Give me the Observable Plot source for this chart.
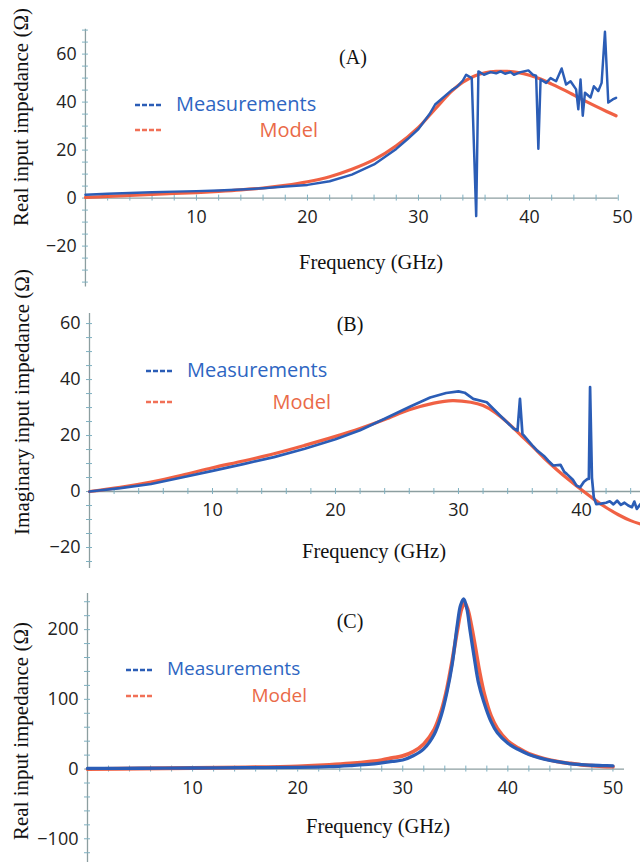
<!DOCTYPE html>
<html><head><meta charset="utf-8">
<script src="https://cdn.jsdelivr.net/npm/d3@7"></script>
<script src="https://cdn.jsdelivr.net/npm/@observablehq/plot@0.6"></script>
<style>
html,body{margin:0;padding:0;background:#fff;}
#fig{position:relative;width:640px;height:862px;overflow:hidden;}
.panel{position:absolute;left:0;width:640px;overflow:hidden;}
#overlay{position:absolute;left:0;top:0;pointer-events:none;}
</style></head><body><div id="fig"></div>
<script>
// ---------- Panel A: real input impedance ----------
const freqA_meas = [0,2,4,6,8,10,12,14,16,18,20,22,24,26,28,29,30,31,31.5,32,33,33.5,34,34.3,34.8,35.2,35.4,35.9,36.5,37,37.4,37.8,38.3,38.6,39.2,39.9,40.3,40.6,40.8,41.0,41.5,41.9,42.4,42.9,43.3,43.7,44.2,44.4,44.6,44.8,45.0,45.5,45.8,46.2,46.5,46.8,47.1,47.5,47.8];
const realA_meas = [1.4,1.8,2.1,2.4,2.7,2.9,3.2,3.6,4.1,4.8,5.5,7,9.8,14,20.5,24.5,28.8,35,39,41,45,46.5,49,51.4,50,-7.5,52.8,51.4,52.5,52,52.8,51.8,52.5,51.4,52.5,53.2,51.4,51,20.6,49.4,48,50,48.7,54,47.3,48.7,45.3,37,49.4,34.3,43.9,41.9,46.6,44.6,48,69.3,39.8,41.1,41.8];
const freqA_model = [0,2,4,6,8,10,12,14,16,18,20,22,24,26,28,30,31,32,33,34,35,36,37,38,39,40,41,42,43,44,45,46,47,47.8];
const realA_model = [0.3,0.7,1.1,1.5,1.9,2.3,2.8,3.4,4.2,5.3,6.8,8.9,12,16,21.8,29.5,34.5,39.7,44.6,48.3,50.8,52.2,52.8,52.8,52.3,51.2,49.6,47.5,45.3,42.9,40.5,38.2,36,34.3];

// ---------- Panel B: imaginary input impedance ----------
const freqB_meas = [0,2.5,5,7.5,10,12.5,15,17.5,20,22,24,26,27.7,29,30,30.5,31.2,32.3,33.4,34.5,34.8,35.0,35.2,36,36.4,37,37.3,37.7,38.3,38.6,38.8,39.3,39.6,39.9,40.2,40.5,40.6,40.7,40.85,41.0,41.2,41.6,42,42.3,42.6,42.9,43.2,43.5,43.8,44.1,44.3,44.5,44.8];
const imagB_meas = [0,1.2,2.7,5,7.4,9.8,12.3,15.3,18.7,21.9,26,30.2,33.6,35.2,35.8,35.3,33.1,31.9,27.1,22.4,21.8,33.1,20.6,16.5,14.6,12.5,11,9.3,9.5,7,6.3,4.2,2.1,1.5,3.5,4.5,4.5,37.3,5,-2,-4.5,-4.3,-4,-3.5,-4.6,-3.3,-4.8,-4,-5,-5.6,-3.6,-6.2,-4.5];
const freqB_model = [0,2.5,5,7.5,10,12.5,15,17.5,20,22,24,26,28,29.5,31,32,33,34,35,36,37,38,39,40,41,42,43,44,44.8];
const imagB_model = [0,1.5,3.4,5.8,8.5,10.9,13.5,16.5,19.7,22.5,25.7,29.2,31.6,32.5,31.9,30.7,28.2,24.6,20.4,16.2,11.8,7.8,4.1,0.6,-2.7,-5.7,-8.3,-10.4,-11.6];

// ---------- Panel C: real input impedance (resonance) ----------
const freqC_meas = [0,5,10,15,20,23,25,27,28,29,30,31,32,33,33.7,34.2,34.7,35.2,35.5,35.8,36.1,36.4,36.8,37.2,37.7,38.4,39,40,41,42,43,44,45,46,47,48,49,50];
const realC_meas = [1,1.2,1.5,2,2.5,3.5,5,7,9,11,13,19,29,50,79,110,150,208,235,244,230,199,160,124,97,68,52,37,28,21,16,12.5,10,7.5,6.5,5.5,5,4.5];
const freqC_model = [0,5,10,15,20,23,25,27,28,29,30,31,32,33,33.7,34.2,34.7,35.2,35.6,35.9,36.2,36.5,36.9,37.3,37.8,38.4,39,40,41,42,43,44,45,46,47,48,49,50];
const realC_model = [0,0.8,1.5,2.5,4,6,8,11,13,16,19,25,36,57,85,115,155,200,230,238,228,208,175,140,105,76,58,40,30,22,17,13,10,8,6,5,4,3.5];

// ---------- Ticks and labels ----------
const xTickLabels = [10,20,30,40,50];
const yTicksA = [-20,0,20,40,60];
const yTicksB = [-20,0,20,40,60];
const yTicksC = [-100,0,100,200];
const yLabels = ["Real input impedance (Ω)", "Imaginary input impedance (Ω)", "Real input impedance (Ω)"];
const panelTags = ["(A)", "(B)", "(C)"];
const xLabel = "Frequency (GHz)";
const seriesNames = ["Measurements", "Model"];

const BLUE = "#2b5db6", RED = "#ef583a", AXIS = "#8c9ea0", TICK = "#7fb0c0";
const VIEW_W = 640;
const rng = (a, b, s) => d3.range(a, b + 1e-9, s);
const zip = (xs, ys) => xs.map((x, i) => ({f: x, v: ys[i]}));

function panel(o) {
  const marginRight = o.marginRight || 0;
  const plotH = o.height - o.marginTop - o.marginBottom;
  const plotW = o.width - o.marginLeft - marginRight;
  const tY = 3 * (o.yDomain[1] - o.yDomain[0]) / plotH;
  const tX = 3 * (o.xDomain[1] - o.xDomain[0]) / plotW;
  const pxPerUnit = plotW / (o.xDomain[1] - o.xDomain[0]);
  const px = d => o.marginLeft + (d - o.xDomain[0]) * pxPerUnit;
  // labels fully inside the visible window are centred; one at the cut edge is right-aligned to it
  const inLabels = xTickLabels.filter(d => d <= o.xDomain[1] && px(d) + 10 <= VIEW_W);
  const edgeLabels = xTickLabels.filter(d => d <= o.xDomain[1] && px(d) + 10 > VIEW_W);
  return Plot.plot({
    width: o.width, height: o.height,
    marginLeft: o.marginLeft, marginRight, marginTop: o.marginTop, marginBottom: o.marginBottom,
    x: {domain: o.xDomain, axis: null},
    y: {domain: o.yDomain, axis: null},
    style: {fontFamily: "'Open Sans', sans-serif", fontSize: "18px", color: "#222", background: "transparent", overflow: "visible"},
    marks: [
      Plot.ruleX([0], {stroke: AXIS, strokeWidth: 1.3}),
      Plot.ruleY([0], {x1: 0, x2: o.xAxisEnd, stroke: AXIS, strokeWidth: 1.3}),
      Plot.ruleX(rng(2, o.xAxisEnd, 2), {x: d => d, y1: -tY, y2: tY, stroke: TICK, strokeWidth: 1}),
      Plot.ruleY(o.yMinor, {y: d => d, x1: -tX, x2: tX, stroke: TICK, strokeWidth: 1}),
      Plot.axisY({ticks: o.yTicks, tickSize: 0, tickPadding: 9, fontSize: 18, label: null}),
      Plot.text(inLabels, {x: d => d, y: () => 0, dy: 19, text: d => String(d), fontSize: 18, fill: "#222"}),
      Plot.text(edgeLabels, {x: d => d, y: () => 0, dy: 19, dx: -(px(o.xDomain[1]) - VIEW_W), text: d => String(d), fontSize: 18, fill: "#222", textAnchor: "end"}),
      Plot.line(o.model, {x: "f", y: "v", stroke: RED, strokeWidth: o.rw, curve: "catmull-rom", strokeOpacity: 0.95}),
      Plot.line(o.meas, {x: "f", y: "v", stroke: BLUE, strokeWidth: o.bw, curve: o.measCurve})
    ]
  });
}

const fig = document.getElementById("fig");
const panels = [
  {top: 0, width: 648, height: 290, marginLeft: 86, marginTop: 29, marginBottom: 0,
   xDomain: [0, 50], xAxisEnd: 48, yDomain: [-37, 70.4], yTicks: yTicksA, yMinor: rng(-35, 70, 5),
   meas: zip(freqA_meas, realA_meas), model: zip(freqA_model, realA_model), bw: 2.5, rw: 3.2, measCurve: "linear"},
  {top: 290, width: 640, height: 290, marginLeft: 89, marginTop: 23, marginBottom: 12,
   xDomain: [0, 44.8], xAxisEnd: 44.8, yDomain: [-27.5, 63.6], yTicks: yTicksB, yMinor: rng(-25, 60, 5),
   meas: zip(freqB_meas, imagB_meas), model: zip(freqB_model, imagB_model), bw: 2.7, rw: 3.2, measCurve: "linear"},
  {top: 580, width: 640, height: 282, marginLeft: 87, marginRight: 16, marginTop: 13, marginBottom: 0,
   xDomain: [0, 51.1], xAxisEnd: 51.1, yDomain: [-134, 251.8], yTicks: yTicksC, yMinor: rng(-120, 240, 20),
   meas: zip(freqC_meas, realC_meas), model: zip(freqC_model, realC_model), bw: 3.3, rw: 3.8, measCurve: "catmull-rom"}
];
panels.forEach(p => {
  const div = document.createElement("div");
  div.className = "panel";
  div.style.top = p.top + "px";
  div.style.height = p.height + "px";
  div.appendChild(panel(p));
  fig.appendChild(div);
});

// ---------- Overlay: titles, axis labels, legends ----------
const ov = d3.select(fig).append("svg").attr("id", "overlay").attr("width", 640).attr("height", 862);
const serif = "'Liberation Serif', 'Times New Roman', serif";
const sans = "'Open Sans', 'Liberation Sans', sans-serif";
// leg: [dashX, dashY1, textX1, baseline1, dashY2, textEndX2, baseline2, fontSize]
const layout = [
  {yl: [21, 117], tag: [353, 64], fx: [371, 269], leg: [135, 105, 176, 110.5, 130, 318, 137, 20]},
  {yl: [22, 402], tag: [350, 331], fx: [374, 558], leg: [146, 371, 187, 377, 402, 331, 409, 20]},
  {yl: [21, 731], tag: [350, 628], fx: [378, 833], leg: [126, 670, 167, 675, 696, 307, 701.5, 19]}
];
layout.forEach((L, i) => {
  ov.append("text").attr("transform", `translate(${L.yl[0]},${L.yl[1]}) rotate(-90)`)
    .attr("text-anchor", "middle").attr("dominant-baseline", "central")
    .attr("font-family", serif).attr("font-size", 21).attr("fill", "#111").text(yLabels[i]);
  ov.append("text").attr("x", L.tag[0]).attr("y", L.tag[1]).attr("text-anchor", "middle")
    .attr("font-family", serif).attr("font-size", 20).attr("fill", "#111").text(panelTags[i]);
  ov.append("text").attr("x", L.fx[0]).attr("y", L.fx[1]).attr("text-anchor", "middle")
    .attr("font-family", serif).attr("font-size", 20.5).attr("fill", "#111").text(xLabel);
  const [lx, ly1, tx1, ty1, ly2, tx2, ty2, fs] = L.leg;
  ov.append("line").attr("x1", lx).attr("x2", lx + 28).attr("y1", ly1).attr("y2", ly1)
    .attr("stroke", BLUE).attr("stroke-width", 2.4).attr("stroke-dasharray", "5,2");
  ov.append("text").attr("x", tx1).attr("y", ty1).attr("font-family", sans).attr("font-size", fs)
    .attr("fill", "#2e66c2").text(seriesNames[0]);
  ov.append("line").attr("x1", lx).attr("x2", lx + 28).attr("y1", ly2).attr("y2", ly2)
    .attr("stroke", RED).attr("stroke-width", 2.4).attr("stroke-dasharray", "5,2").attr("opacity", 0.85);
  ov.append("text").attr("x", tx2).attr("y", ty2).attr("text-anchor", "end").attr("font-family", sans)
    .attr("font-size", fs).attr("fill", "#ea6a48").text(seriesNames[1]);
});
</script></body></html>
